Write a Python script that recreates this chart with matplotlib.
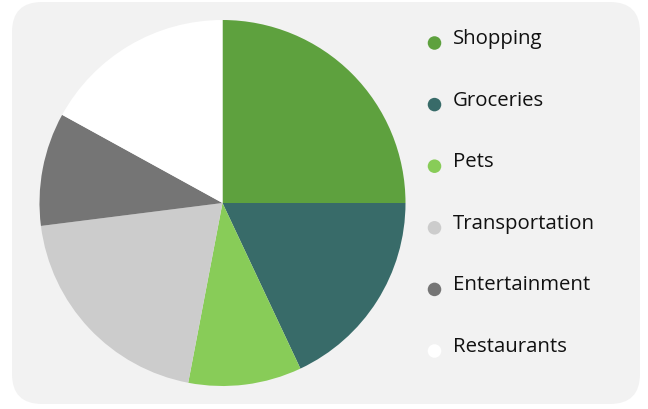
import matplotlib
matplotlib.use("Agg")
import matplotlib.pyplot as plt
from matplotlib.patches import FancyBboxPatch

# Spending categories and their shares (percent)
categories = ["Shopping", "Groceries", "Pets", "Transportation", "Entertainment", "Restaurants"]
shares = [25, 18, 10, 20, 10, 17]
colors = ["#5ea13e", "#386b69", "#88cc58", "#cccccc", "#757575", "#ffffff"]

plt.rcParams['font.family'] = ['Open Sans', 'DejaVu Sans']

fig = plt.figure(figsize=(6.48, 4.10), dpi=100)
ax = fig.add_axes([0, 0, 1, 1])

# Light grey rounded panel
panel = FancyBboxPatch((12, 5), 628, 402, boxstyle="round,pad=0,rounding_size=30",
                       facecolor="#f2f2f2", edgecolor="none", zorder=0)
ax.add_patch(panel)

# Pie, clockwise from 12 o'clock
ax.pie(shares, colors=colors, startangle=90, counterclock=False,
       center=(222.5, 206), radius=183, frame=True,
       wedgeprops=dict(linewidth=0))
ax.set_xlim(0, 648)
ax.set_ylim(0, 410)
ax.set_aspect('equal')
ax.axis('off')

# Legend: coloured dots with labels
for i, (name, col) in enumerate(zip(categories, colors)):
    y = 366 - i * 61.6
    ax.scatter([434.5], [y], s=95, color=col, edgecolors='none', zorder=3)
    ax.text(453, y, name, fontsize=14.7, color="#111111", va='baseline', ha='left')

fig.savefig("out.png", dpi=100)
